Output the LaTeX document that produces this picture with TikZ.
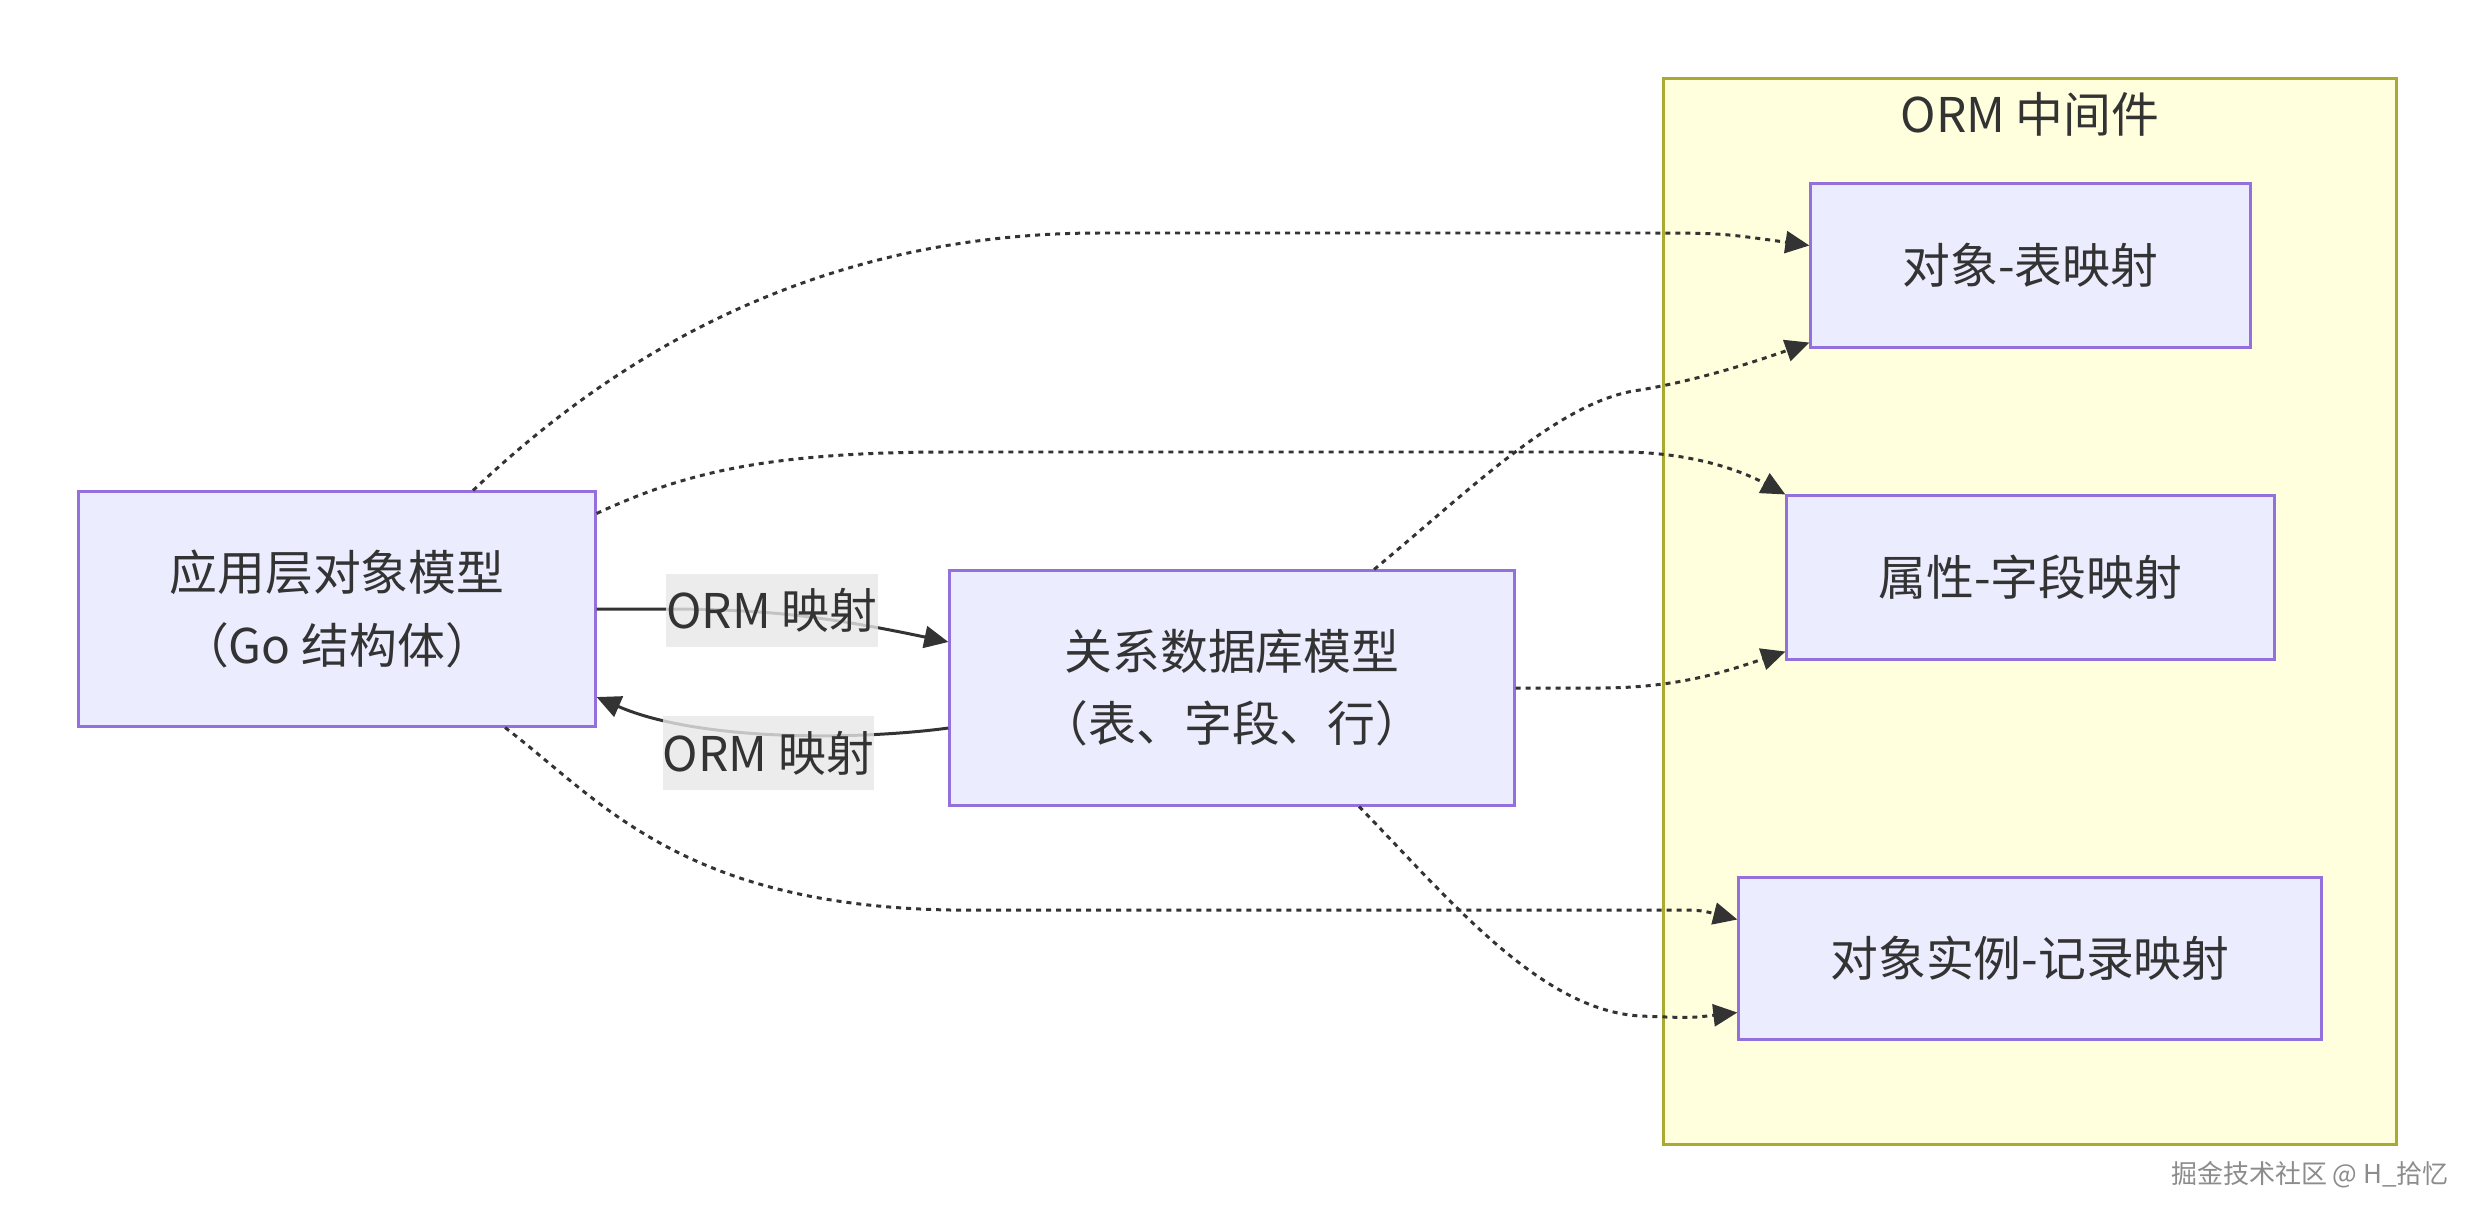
\documentclass[tikz,border=0pt]{standalone}
\usepackage{fontspec}
\setmainfont{Noto Sans CJK SC}
\usetikzlibrary{arrows.meta}
\definecolor{nodefill}{HTML}{ECECFF}
\definecolor{nodeline}{HTML}{9370DB}
\definecolor{clfill}{HTML}{FFFFDE}
\definecolor{clline}{HTML}{AAAA33}
\definecolor{ink}{HTML}{333333}
\definecolor{lblbg}{HTML}{E8E8E8}
\begin{document}
\begin{tikzpicture}[x=0.01cm,y=-0.01cm,
  txt/.style={text=ink,font=\fontsize{13.6pt}{20.5pt}\selectfont},
  box/.style={txt,draw=nodeline,fill=nodefill,line width=0.85pt,align=center,inner sep=0pt},
  lbl/.style={txt,fill=lblbg,fill opacity=0.8,text opacity=1,inner sep=0pt,minimum width=2.03cm,minimum height=0.73cm},
  edge/.style={draw=ink,line width=0.85pt,-{Triangle[length=0.24cm,width=0.22cm]}},
  dots/.style={edge,dash pattern=on 0.05cm off 0.05cm}]
\useasboundingbox (0,0) rectangle (2475,1224);
\fill[white] (0,0) rectangle (2475,1224);
% cluster
\node[draw=clline,fill=clfill,line width=0.85pt,minimum width=7.32cm,minimum height=10.65cm,inner sep=0pt] (cl) at (2030,611.5) {};
\node[txt] (cltitle) at (2030,114) {ORM 中间件};
% nodes
\node[box,minimum width=5.16cm,minimum height=2.34cm] (app) at (337,609) {应用层对象模型\\（Go 结构体）};
\node[box,minimum width=5.64cm,minimum height=2.34cm] (db) at (1232,688) {关系数据库模型\\（表、字段、行）};
\node[box,minimum width=4.39cm,minimum height=1.63cm] (ot) at (2030.5,265.5) {对象-表映射};
\node[box,minimum width=4.87cm,minimum height=1.63cm] (pf) at (2030.5,577.5) {属性-字段映射};
\node[box,minimum width=5.82cm,minimum height=1.61cm] (oi) at (2030,958.5) {对象实例-记录映射};
% solid edges
\draw[edge] (app.east) -- (660,609) .. controls (760,609) and (820,615) .. ([yshift=0.46cm]db.west);
\draw[edge] ([yshift=-0.40cm]db.west) .. controls (860,740) and (700,742) .. ([yshift=-0.88cm]app.east);
% dotted edges
\draw[dots] ([xshift=1.36cm]app.north) .. controls (600,370) and (800,233) .. (1100,233) -- (1640,233) .. controls (1720,233) .. ([yshift=0.2cm]ot.west);
\draw[dots] ([yshift=-0.23cm]app.north east) .. controls (680,475) and (760,452) .. (950,452) -- (1620,452) .. controls (1690,452) and (1740,470) .. (pf.north west);
\draw[dots] ([xshift=1.68cm]app.south) .. controls (600,800) and (680,905) .. (950,910) -- (1660,910) .. controls (1700,910) .. ([yshift=0.39cm]oi.west);
\draw[dots] ([xshift=1.42cm]db.north) .. controls (1470,490) and (1560,400) .. (1640,390) .. controls (1700,380) and (1760,360) .. ([yshift=-0.77cm]ot.west);
\draw[dots] (db.east) -- (1600,688) .. controls (1680,688) and (1730,670) .. ([yshift=-0.74cm]pf.west);
\draw[dots] ([xshift=1.27cm]db.south) .. controls (1450,900) and (1540,1010) .. (1640,1016) .. controls (1690,1018) .. ([yshift=-0.54cm]oi.west);
% edge labels
\node[lbl] (l1) at (772,610.5) {ORM 映射};
\node[lbl] (l2) at (768.5,753) {ORM 映射};
% watermark
\node[text=black!45,font=\fontsize{7.4pt}{9pt}\selectfont] (wm) at (2310,1175) {掘金技术社区 @ H\_拾忆};
\end{tikzpicture}
\end{document}
